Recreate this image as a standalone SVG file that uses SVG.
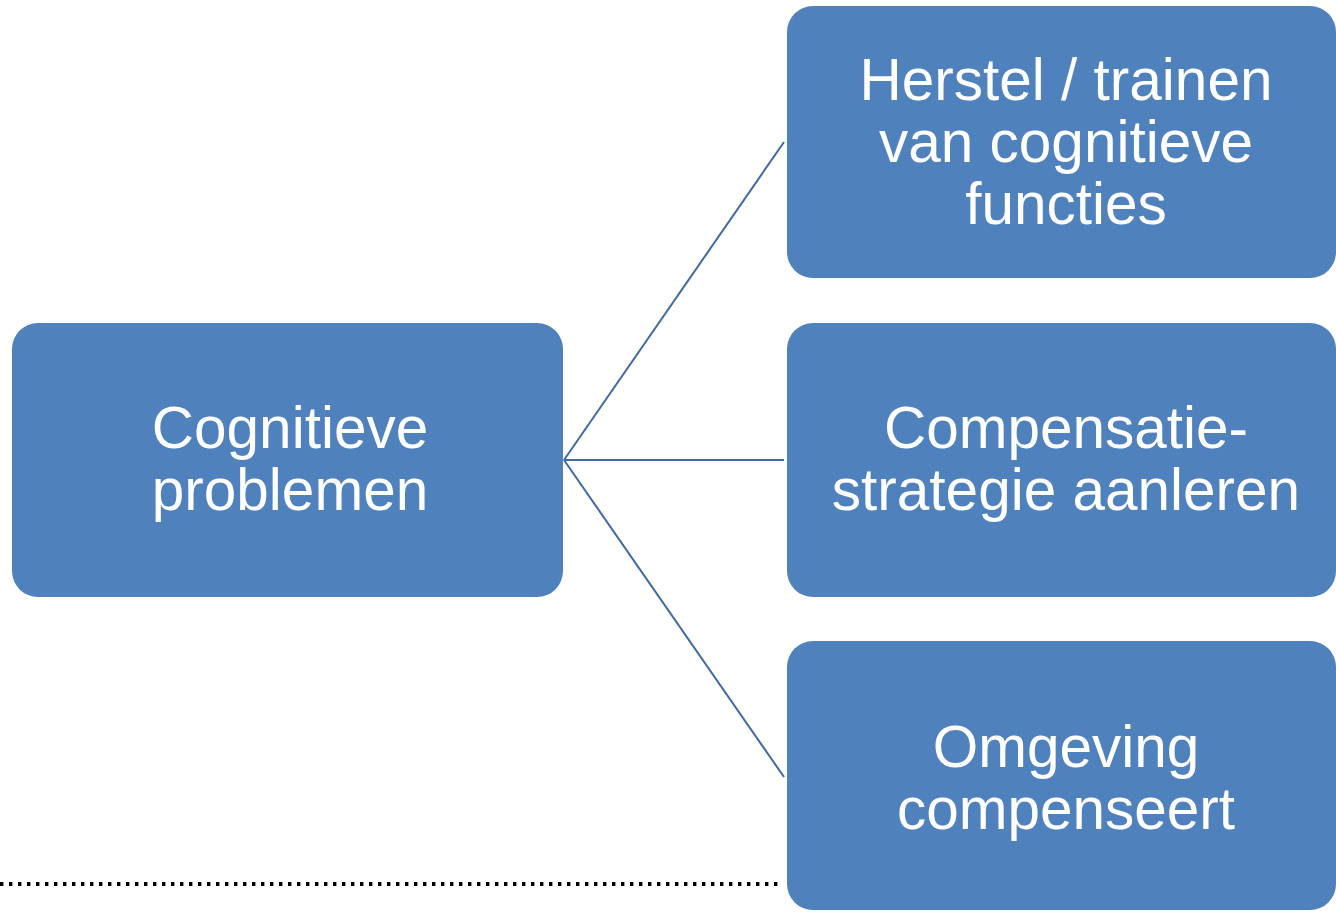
<svg xmlns="http://www.w3.org/2000/svg" width="1336" height="912" viewBox="0 0 1336 912">
<style>
.box{fill:#4f81bd;}
.t{fill:#ffffff;font-family:"Liberation Sans",Arial,sans-serif;font-size:58.5px;text-anchor:middle;}
.c{stroke:#3f6aa0;stroke-width:2;fill:none;}
</style>
<rect width="1336" height="912" fill="#ffffff"/>
<line x1="0" y1="884" x2="782" y2="884" stroke="#000000" stroke-width="4" stroke-dasharray="3.4 5.6"/>
<g id="connectors">
<line class="c" x1="564" y1="460" x2="784" y2="142"/>
<line class="c" x1="564" y1="460" x2="784" y2="460"/>
<line class="c" x1="564" y1="460" x2="784" y2="777"/>
</g>
<g id="node-cognitieve">
<rect class="box" x="12" y="323" width="551" height="274" rx="26"/>
<text class="t" x="290" y="448">Cognitieve</text>
<text class="t" x="290" y="510">problemen</text>
</g>
<g id="node-herstel">
<rect class="box" x="787" y="6" width="549" height="272" rx="26"/>
<text class="t" x="1066" y="100">Herstel / trainen</text>
<text class="t" x="1066" y="162">van cognitieve</text>
<text class="t" x="1066" y="224">functies</text>
</g>
<g id="node-compensatie">
<rect class="box" x="787" y="323" width="549" height="274" rx="26"/>
<text class="t" x="1066" y="448">Compensatie-</text>
<text class="t" x="1066" y="510">strategie aanleren</text>
</g>
<g id="node-omgeving">
<rect class="box" x="787" y="641" width="549" height="269" rx="26"/>
<text class="t" x="1066" y="767">Omgeving</text>
<text class="t" x="1066" y="829">compenseert</text>
</g>
</svg>
